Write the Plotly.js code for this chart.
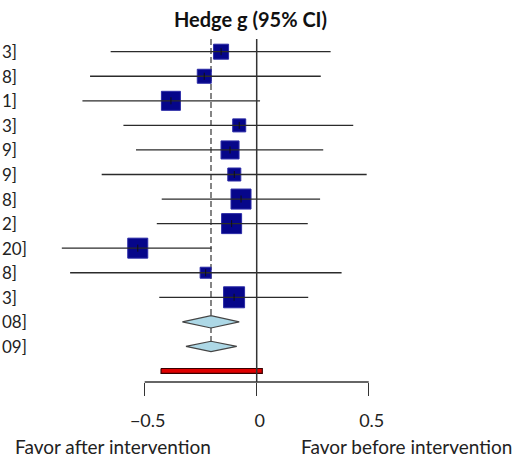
<!DOCTYPE html>
<html><head><meta charset="utf-8">
<script src="https://cdn.plot.ly/plotly-3.0.1.min.js"></script>
<style>html,body{margin:0;padding:0;background:#fff}#plot{width:519px;height:459px}</style>
</head><body><div id="plot"></div>
<script>
// Study estimates (Hedge g) and 95% CI, top to bottom
const studyEst = [-0.159, -0.234, -0.383, -0.078, -0.119, -0.100, -0.070, -0.112, -0.531, -0.228, -0.101];
const studyLo  = [-0.652, -0.744, -0.778, -0.595, -0.539, -0.692, -0.424, -0.446, -0.870, -0.833, -0.435];
const studyHi  = [ 0.330,  0.286,  0.015,  0.431,  0.297,  0.491,  0.283,  0.228, -0.201,  0.379,  0.230];
const studyWeight = [15, 14, 19, 13, 18, 13, 20, 20, 20, 11, 21];
const studyLabels = ["3]", "8]", "1]", "3]", "9]", "9]", "8]", "2]", "20]", "8]", "3]"];
// Pooled estimates (diamonds)
const poolEst = [-0.204, -0.204];
const poolLo  = [-0.332, -0.316];
const poolHi  = [-0.078, -0.089];
const poolLabels = ["08]", "09]"];
// Prediction interval (red bar)
const predLo = -0.427, predHi = 0.025;
const tickVals = [-0.5, 0, 0.5];
const tickText = ["\u22120.5", "0", "0.5"];

const nS = studyEst.length;
const rows = studyEst.map((_, i) => i + 1);
const poolRows = poolEst.map((_, i) => nS + 1 + i);
const predRow = nS + poolEst.length + 1;

const traces = [];
// squares
traces.push({x: studyEst, y: rows, type: 'scatter', mode: 'markers',
  marker: {symbol: 'square', size: studyWeight, color: '#06068a', opacity: 1, line: {color: '#2a2aa6', width: 1}},
  hoverinfo: 'skip', showlegend: false});
// CI lines
const cx = [], cy = [];
rows.forEach((r, i) => { cx.push(studyLo[i], studyHi[i], null); cy.push(r, r, null); });
traces.push({x: cx, y: cy, type: 'scatter', mode: 'lines', line: {color: '#2b2b2b', width: 1.3},
  hoverinfo: 'skip', showlegend: false});
// small vertical tick at estimate
traces.push({x: studyEst, y: rows, type: 'scatter', mode: 'markers',
  marker: {symbol: 'line-ns', size: 5, opacity: 1, line: {color: '#111', width: 1}}, hoverinfo: 'skip', showlegend: false});
// diamonds
const halfH = [0.25, 0.21];
poolEst.forEach((e, i) => {
  const r = poolRows[i], h = halfH[i];
  traces.push({x: [poolLo[i], e, poolHi[i], e, poolLo[i]], y: [r, r - h, r, r + h, r],
    type: 'scatter', mode: 'lines', fill: 'toself', fillcolor: '#add8e6',
    line: {color: '#444', width: 1.2}, hoverinfo: 'skip', showlegend: false});
});
// prediction bar
const ph = 0.1;
traces.push({x: [predLo, predHi, predHi, predLo, predLo], y: [predRow - ph, predRow - ph, predRow + ph, predRow + ph, predRow - ph],
  type: 'scatter', mode: 'lines', fill: 'toself', fillcolor: '#e00000',
  line: {color: '#3a0000', width: 1.2}, hoverinfo: 'skip', showlegend: false});

const FAM = 'Lato, Open Sans, sans-serif';
const labelFont = {family: FAM, size: 17, color: '#222'};
const axisLabFont = {family: FAM, size: 19, color: '#222'};
const annotations = [];
studyLabels.forEach((t, i) => annotations.push({text: t, xref: 'paper', yref: 'y',
  x: 0, y: rows[i], xanchor: 'left', yanchor: 'middle', showarrow: false, font: labelFont}));
poolLabels.forEach((t, i) => annotations.push({text: t, xref: 'paper', yref: 'y',
  x: 0, y: poolRows[i], xanchor: 'left', yanchor: 'middle', showarrow: false, font: labelFont}));
annotations.push({text: 'Favor after intervention', xref: 'paper', yref: 'paper', x: 113 / 519, y: -(446 - 382) / 382,
  xanchor: 'center', yanchor: 'middle', showarrow: false, font: axisLabFont});
annotations.push({text: 'Favor before intervention', xref: 'paper', yref: 'paper', x: 406 / 519, y: -(446 - 382) / 382,
  xanchor: 'center', yanchor: 'middle', showarrow: false, font: axisLabFont});

const shapes = [
  {type: 'line', xref: 'x', yref: 'paper', x0: tickVals[0], x1: tickVals[tickVals.length - 1], y0: 0, y1: 0,
   line: {color: '#333', width: 1.5}},
  {type: 'line', xref: 'x', yref: 'paper', x0: 0, x1: 0, y0: 0, y1: (382 - 39) / 382,
   line: {color: '#333', width: 1.5}},
  {type: 'line', xref: 'x', yref: 'y', x0: poolEst[0], x1: poolEst[0], y0: 0.48, y1: poolRows[poolRows.length - 1] + 0.25,
   line: {color: '#444', width: 1.3, dash: '6px,3px'}, layer: 'below'}
];

const layout = {
  width: 519, height: 459,
  margin: {l: 0, r: 0, t: 0, b: 77, pad: 0},
  paper_bgcolor: '#fff', plot_bgcolor: '#fff',
  title: {text: '<b>Hedge g (95% CI)</b>', xref: 'container', yref: 'container', x: 250.5 / 519, y: 1 - 20 / 459,
    xanchor: 'center', yanchor: 'middle', font: {family: FAM, size: 20, color: '#111'}},
  xaxis: {range: [-1.146, 1.171], tickvals: tickVals, ticktext: tickText, ticks: 'outside', ticklen: 13,
    tickwidth: 1.5, tickcolor: '#333', showgrid: false, zeroline: false, showline: false,
    ticklabelstandoff: 9, ticklabelshift: 3,
    tickfont: {family: FAM, size: 18, color: '#222'}, fixedrange: true},
  yaxis: {range: [14.449, -1.105], visible: false, showgrid: false, zeroline: false, fixedrange: true},
  shapes: shapes, annotations: annotations, showlegend: false
};
Plotly.newPlot('plot', traces, layout, {staticPlot: true, displayModeBar: false});
</script></body></html>
